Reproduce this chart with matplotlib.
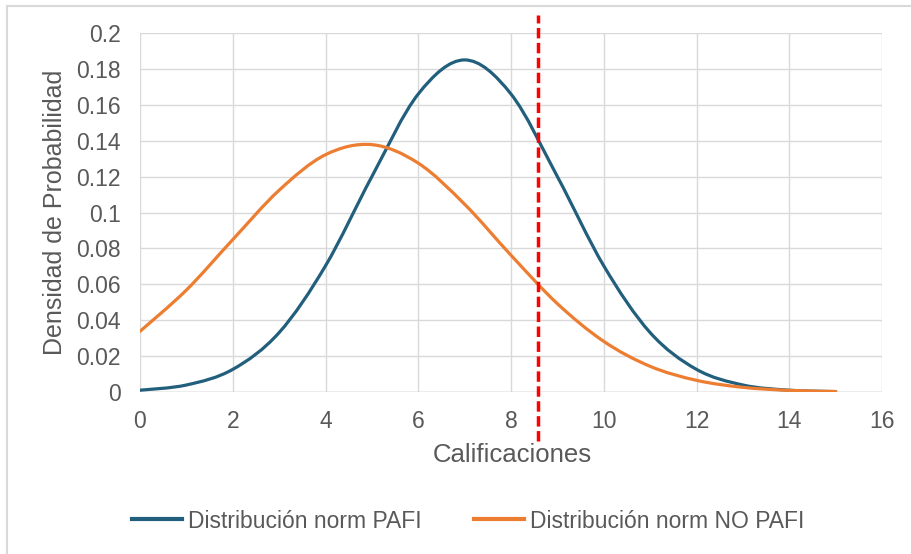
import matplotlib
matplotlib.use("Agg")
import matplotlib.pyplot as plt
from matplotlib.path import Path
from matplotlib.patches import PathPatch
from matplotlib.lines import Line2D

# ---- data ----
calificaciones = [0, 1, 2, 3, 4, 5, 6, 7, 8, 9, 10, 11, 12, 13, 14, 15]
pafi = [0.001, 0.0039, 0.0126, 0.0331, 0.0703, 0.120, 0.166, 0.185,
        0.166, 0.120, 0.0703, 0.0331, 0.0126, 0.0039, 0.001, 0.0002]
no_pafi = [0.0338, 0.0568, 0.0849, 0.1124, 0.1322, 0.1378, 0.1275, 0.1046,
           0.0762, 0.0492, 0.0282, 0.0143, 0.0065, 0.0026, 0.0009, 0.0003]
corte = 8.58
series_names = ["Distribución norm PAFI", "Distribución norm NO PAFI"]
series_colors = ["#215F7C", "#ED7D31"]
x_ticks = [0, 2, 4, 6, 8, 10, 12, 14, 16]
y_ticks = [0, 0.02, 0.04, 0.06, 0.08, 0.1, 0.12, 0.14, 0.16, 0.18, 0.2]
y_tick_labels = ["0", "0.02", "0.04", "0.06", "0.08", "0.1", "0.12", "0.14",
                 "0.16", "0.18", "0.2"]
x_label = "Calificaciones"
y_label = "Densidad de Probabilidad"

plt.rcParams['font.family'] = ['Liberation Sans', 'DejaVu Sans']
TXT = "#595959"
GRID = "#D9D9D9"

fig = plt.figure(figsize=(9.12, 5.54), dpi=100)
ax = fig.add_axes([140/912, 1-392/554, 742/912, 359/554])


def smooth_path(xs, ys):
    """Excel-like smoothed line: cubic Bezier through the points."""
    n = len(xs)
    verts = [(xs[0], ys[0])]
    codes = [Path.MOVETO]
    for i in range(n - 1):
        x0, y0 = xs[max(i - 1, 0)], ys[max(i - 1, 0)]
        x1, y1 = xs[i], ys[i]
        x2, y2 = xs[i + 1], ys[i + 1]
        x3, y3 = xs[min(i + 2, n - 1)], ys[min(i + 2, n - 1)]
        c1 = (x1 + (x2 - x0) / 6, y1 + (y2 - y0) / 6)
        c2 = (x2 - (x3 - x1) / 6, y2 - (y3 - y1) / 6)
        verts += [c1, c2, (x2, y2)]
        codes += [Path.CURVE4] * 3
    return Path(verts, codes)


for ys, col in zip([pafi, no_pafi], series_colors):
    p = PathPatch(smooth_path(calificaciones, ys), facecolor='none',
                  edgecolor=col, lw=2.3, capstyle='round', joinstyle='round',
                  zorder=3)
    ax.add_patch(p)

ax.set_xlim(0, 16)
ax.set_ylim(0, 0.2)
ax.set_xticks(x_ticks)
ax.set_yticks(y_ticks)
ax.set_yticklabels(y_tick_labels)
ax.grid(True, color=GRID, lw=1)
ax.set_axisbelow(True)
for s in ax.spines.values():
    s.set_visible(False)
ax.axhline(0, color="#BFBFBF", lw=1, zorder=2)
ax.tick_params(axis='both', length=0, labelsize=16.5, colors=TXT)
ax.tick_params(axis='x', pad=13)
ax.tick_params(axis='y', pad=14)

# red dashed cut-off line extending beyond plot area
ax.plot([corte, corte], [-0.0275, 0.2103], color="#FF0000", lw=2.5,
        dashes=(3, 1.3), clip_on=False, zorder=4)

ax.set_xlabel(x_label, fontsize=18.5, color=TXT, va='center')
ax.xaxis.set_label_coords(0.502, -0.176)
ax.set_ylabel(y_label, fontsize=18, color=TXT, va='center')
ax.yaxis.set_label_coords(-0.1146, 0.5)

handles = [Line2D([0], [0], color=c, lw=3) for c in series_colors]
leg = fig.legend(handles, series_names, loc='center',
                 bbox_to_anchor=(468/912, 1-521/554), ncol=2, frameon=False,
                 fontsize=16.5, handlelength=2.2, handletextpad=0.25,
                 columnspacing=2.3, borderpad=0)
for t in leg.get_texts():
    t.set_color(TXT)

# chart frame (top and left edges visible)
fig.add_artist(Line2D([7/912, 7/912], [0, 1-6/554], color=GRID, lw=1.5,
                      transform=fig.transFigure))
fig.add_artist(Line2D([7/912, 1], [1-6/554, 1-6/554], color=GRID, lw=1.5,
                      transform=fig.transFigure))

fig.savefig("out.png", dpi=100)
